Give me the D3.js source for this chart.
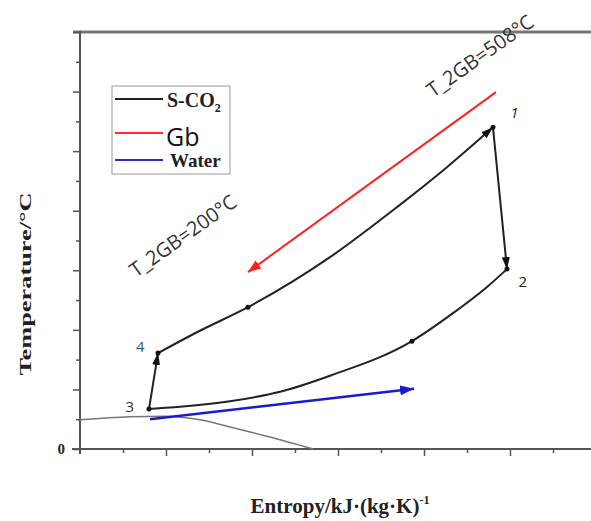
<!DOCTYPE html>
<html><head><meta charset="utf-8">
<script src="https://cdn.jsdelivr.net/npm/d3@7"></script>
<style>body{margin:0;background:#fff}svg{display:block}</style>
</head><body>
<svg id="c" width="591" height="521"></svg>
<script>
// ---- data (entropy s, temperature T) ----
const upperCurve = [ // 4 -> 1 (S-CO2 heating)
  [0.907,161],[1.360,196],[1.953,238],[2.907,322],[3.686,406],[4.267,473],[4.802,540]
];
const expansion = [[4.802,540],[4.965,302]]; // 1 -> 2
const lowerCurve = [ // 2 -> 3 (S-CO2 cooling)
  [4.965,302],[4.733,272],[4.337,228],[3.860,181],[2.907,123],[2.326,96],[1.744,80],[0.802,67]
];
const compression = [[0.802,67],[0.907,161]]; // 3 -> 4
const dotPoints = [[4.802,540],[4.965,302],[0.802,67],[0.907,161],[1.953,238],[3.860,181]];
const gbArrow = [[4.837,599],[1.953,297]];
const waterArrow = [[0.814,50],[3.884,101]];
const satCurve = [[0,49],[0.581,54],[0.988,55],[1.395,49],[1.744,37],[2.209,20],[2.709,0]];
const stateLabels = [
  {t:"1", s:5.05, T:556, c:"#223", it:true},
  {t:"2", s:5.15, T:272, c:"#222", it:false},
  {t:"3", s:0.58, T:62, c:"#333", it:false},
  {t:"4", s:0.70, T:162, c:"#3d5566", it:false}
];
const yMajor = [0,100,200,300,400,500,600,700];
const yMinor = [50,150,250,350,450,550,650];
const xMajor = [1,2,3,4,5];
const xMinor = [0.5,1.5,2.5,3.5,4.5,5.5];
const legendItems = [
  {name:"S-CO", sub:"2", color:"#222"},
  {name:"Gb", color:"#ff2a2a"},
  {name:"Water", color:"#2a2ad0"}
];

const svg = d3.select("#c");
const x = d3.scaleLinear().domain([0,6]).range([80,596]);
const y = d3.scaleLinear().domain([0,700]).range([449,32]);

// defs / markers
const defs = svg.append("defs");
function marker(id, color, len, wid){
  defs.append("marker").attr("id",id).attr("markerUnits","userSpaceOnUse")
    .attr("viewBox",`0 ${-wid/2} ${len} ${wid}`).attr("refX",len).attr("refY",0)
    .attr("markerWidth",len).attr("markerHeight",wid).attr("orient","auto")
    .append("path").attr("d",`M0,${-wid/2}L${len},0L0,${wid/2}Z`).attr("fill",color);
}
marker("mk","#111",12,8);
marker("mr","#ff2020",13,10);
marker("mb","#1a1ad0",14,10);

// axes
const axCol = "#555";
svg.append("line").attr("x1",73).attr("x2",591).attr("y1",y(700)).attr("y2",y(700))
  .attr("stroke","#777").attr("stroke-width",3);
svg.append("line").attr("x1",72).attr("x2",591).attr("y1",y(0)).attr("y2",y(0))
  .attr("stroke",axCol).attr("stroke-width",2);
svg.append("line").attr("x1",x(0)).attr("x2",x(0)).attr("y1",y(700)-1).attr("y2",y(0)+5)
  .attr("stroke",axCol).attr("stroke-width",2);

function styleAxis(g){
  g.select(".domain").remove();
  g.selectAll(".tick line").attr("stroke",axCol).attr("stroke-width",1.5);
  g.selectAll(".tick text").attr("font-family","Liberation Serif").attr("font-weight","bold")
    .attr("font-size",15).attr("fill","#222");
}
svg.append("g").attr("transform",`translate(${x(0)},0)`)
  .call(d3.axisLeft(y).tickValues(yMajor).tickSize(7).tickPadding(8).tickFormat(d=>d===0?"0":""))
  .call(styleAxis);
svg.append("g").attr("transform",`translate(${x(0)},0)`)
  .call(d3.axisLeft(y).tickValues(yMinor).tickSize(4).tickFormat(""))
  .call(styleAxis);
svg.append("g").attr("transform",`translate(0,${y(0)})`)
  .call(d3.axisBottom(x).tickValues(xMajor).tickSize(7).tickFormat(""))
  .call(styleAxis);
svg.append("g").attr("transform",`translate(0,${y(0)})`)
  .call(d3.axisBottom(x).tickValues(xMinor).tickSize(4).tickFormat(""))
  .call(styleAxis);

// axis titles
svg.append("text").attr("x",x(3)+2).attr("y",513).attr("text-anchor","middle")
  .attr("font-family","Liberation Serif").attr("font-weight","bold").attr("font-size",21)
  .attr("fill","#222").text("Entropy/kJ·(kg·K)")
  .append("tspan").attr("dy",-9).attr("font-size",12).text("-1");
svg.append("text").attr("transform","translate(31,284) rotate(-90) scale(1.55,1)")
  .attr("text-anchor","middle")
  .attr("font-family","Liberation Serif").attr("font-weight","bold").attr("font-size",17)
  .attr("fill","#222").text("Temperature/°C");

// curves
const smooth = d3.line().x(d=>x(d[0])).y(d=>y(d[1])).curve(d3.curveMonotoneX);
const straight = d3.line().x(d=>x(d[0])).y(d=>y(d[1]));
svg.append("path").attr("d",smooth(satCurve)).attr("fill","none").attr("stroke","#777").attr("stroke-width",1.5);

// Gb and water arrows
svg.append("path").attr("d",straight(gbArrow)).attr("fill","none").attr("stroke","#ff2020")
  .attr("stroke-width",2).attr("marker-end","url(#mr)");
svg.append("path").attr("d",straight(waterArrow)).attr("fill","none").attr("stroke","#1a1ad0")
  .attr("stroke-width",2.5).attr("marker-end","url(#mb)");

// cycle
svg.append("path").attr("d",smooth(upperCurve)).attr("fill","none").attr("stroke","#222")
  .attr("stroke-width",2).attr("marker-end","url(#mk)");
svg.append("path").attr("d",straight(expansion)).attr("fill","none").attr("stroke","#222")
  .attr("stroke-width",2).attr("marker-end","url(#mk)");
svg.append("path").attr("d",smooth(lowerCurve.slice().sort((a,b)=>a[0]-b[0]))).attr("fill","none").attr("stroke","#222")
  .attr("stroke-width",2);
svg.append("path").attr("d",straight(compression)).attr("fill","none").attr("stroke","#222")
  .attr("stroke-width",2).attr("marker-end","url(#mk)");
svg.selectAll("circle.pt").data(dotPoints).join("circle").attr("class","pt")
  .attr("cx",d=>x(d[0])).attr("cy",d=>y(d[1])).attr("r",2.5).attr("fill","#111");

// state labels
svg.selectAll("text.st").data(stateLabels).join("text").attr("class","st")
  .attr("x",d=>x(d.s)).attr("y",d=>y(d.T)).attr("text-anchor","middle")
  .attr("font-family","Open Sans").attr("font-size",15).attr("font-style",d=>d.it?"italic":"normal")
  .attr("fill",d=>d.c).text(d=>d.t);

// temperature annotations
svg.append("text").attr("transform","translate(433,98) rotate(-35.5)")
  .attr("font-family","Open Sans").attr("font-size",20).attr("fill","#333").text("T_2GB=508°C");
svg.append("text").attr("transform","translate(136,278) rotate(-35.5)")
  .attr("font-family","Open Sans").attr("font-size",20).attr("fill","#333").text("T_2GB=200°C");

// legend
const lg = svg.append("g");
lg.append("rect").attr("x",112).attr("y",86).attr("width",118).attr("height",88)
  .attr("fill","#fff").attr("stroke","#999").attr("stroke-width",1);
const lys = [99,133,160];
legendItems.forEach((d,i)=>{
  lg.append("line").attr("x1",115).attr("x2",163).attr("y1",lys[i]).attr("y2",lys[i])
    .attr("stroke",d.color).attr("stroke-width",2);
});
const t0 = lg.append("text").attr("x",167).attr("y",107).attr("font-family","Liberation Serif")
  .attr("font-weight","bold").attr("font-size",20).attr("fill","#222").text(legendItems[0].name);
t0.append("tspan").attr("dy",5).attr("font-size",12).text(legendItems[0].sub);
lg.append("text").attr("x",166).attr("y",146).attr("font-family","Open Sans")
  .attr("font-size",25).attr("fill","#111").text(legendItems[1].name);
lg.append("text").attr("x",170).attr("y",167).attr("font-family","Liberation Serif")
  .attr("font-weight","bold").attr("font-size",19).attr("fill","#222").text(legendItems[2].name);
</script>
</body></html>
